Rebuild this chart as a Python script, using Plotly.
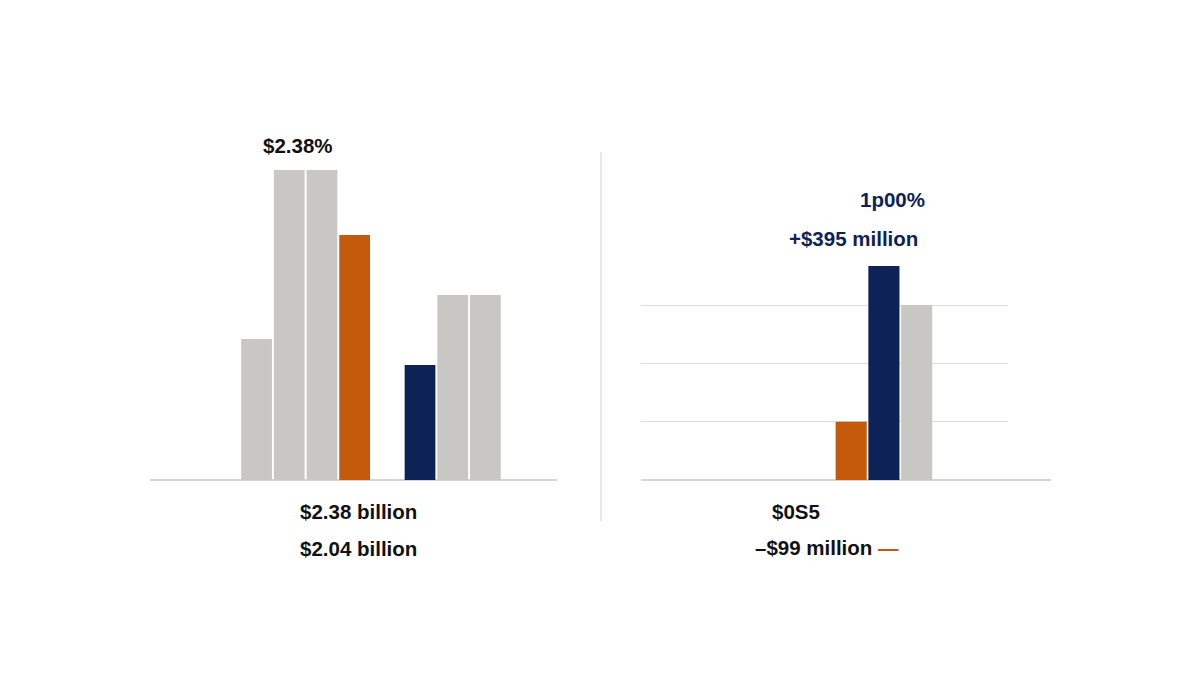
import plotly.graph_objects as go
from plotly.subplots import make_subplots

# left panel: seven bars in eight slots (slot 4 left empty)
left_x = [0, 1, 2, 3, 5, 6, 7]
left_vals = [1.41, 3.10, 3.10, 2.45, 1.15, 1.85, 1.85]
left_colors = ['#c9c7c3', '#c9c7c3', '#c9c7c3', '#c55a0c', '#0d2257', '#c9c7c3', '#c9c7c3']

# right panel
right_x = [0, 1, 2]
right_vals = [1.0, 3.67, 3.0]
right_colors = ['#c55a0c', '#0d2257', '#c9c7c3']
right_grid = [1, 2, 3]

font = 'Liberation Sans, Arial, sans-serif'
dark = '#111111'
navy = '#0d2257'


# page pixels -> paper coords (the page body adds an 8px offset)
def X(px):
    return (px - 8) / 1200


def Y(py):
    return 1 - (py - 8) / 675


fig = make_subplots(rows=1, cols=2)

fig.add_trace(go.Bar(x=left_x, y=left_vals, width=0.94, marker_color=left_colors,
                     marker_line_width=0, hoverinfo='skip'), row=1, col=1)
fig.add_trace(go.Bar(x=right_x, y=right_vals, width=0.95, marker_color=right_colors,
                     marker_line_width=0, hoverinfo='skip'), row=1, col=2)

ydom = [Y(480), Y(150)]
fig.update_layout(
    width=1200, height=675, showlegend=False,
    margin=dict(l=0, r=0, t=0, b=0),
    paper_bgcolor='white', plot_bgcolor='white',
    font=dict(family=font, color=dark),
    xaxis=dict(domain=[X(150), X(557)], range=[-3.26, 9.19], visible=False),
    yaxis=dict(domain=ydom, range=[0, 3.3], visible=False),
    xaxis2=dict(domain=[X(641), X(1008)], range=[-6.42, 4.79], visible=False),
    yaxis2=dict(domain=ydom, range=[0, 330 / 58.3], showticklabels=False, ticks='',
                zeroline=False, showline=False, tickvals=right_grid,
                showgrid=True, gridcolor='#dcdcdc', gridwidth=1),
)

# baselines and divider
fig.add_shape(type='line', xref='paper', yref='paper', x0=X(150), x1=X(557),
              y0=ydom[0], y1=ydom[0], line=dict(color='#c8c8c8', width=1.5), layer='below')
fig.add_shape(type='line', xref='paper', yref='paper', x0=X(641), x1=X(1051),
              y0=ydom[0], y1=ydom[0], line=dict(color='#c8c8c8', width=1.5), layer='below')
fig.add_shape(type='line', xref='paper', yref='paper', x0=X(601), x1=X(601),
              y0=Y(521), y1=Y(152), line=dict(color='#cfcfcf', width=1))


def label(text, px, py, color=dark, size=20.5):
    fig.add_annotation(text=f'<b>{text}</b>', xref='paper', yref='paper',
                       x=X(px), y=Y(py), showarrow=False,
                       xanchor='center', yanchor='middle',
                       font=dict(family=font, size=size, color=color))


label('$2.38%', 298, 145)
label('$2.38 billion', 358, 511)
label('$2.04 billion', 358, 548)
label('1p00%', 892, 199, navy)
label('+$395 million', 853, 238, navy)
label('$0S5', 796, 511)
label('–$99 million <span style="color:#c55a0c">—</span>', 827, 547)

fig.write_html('out.html')
